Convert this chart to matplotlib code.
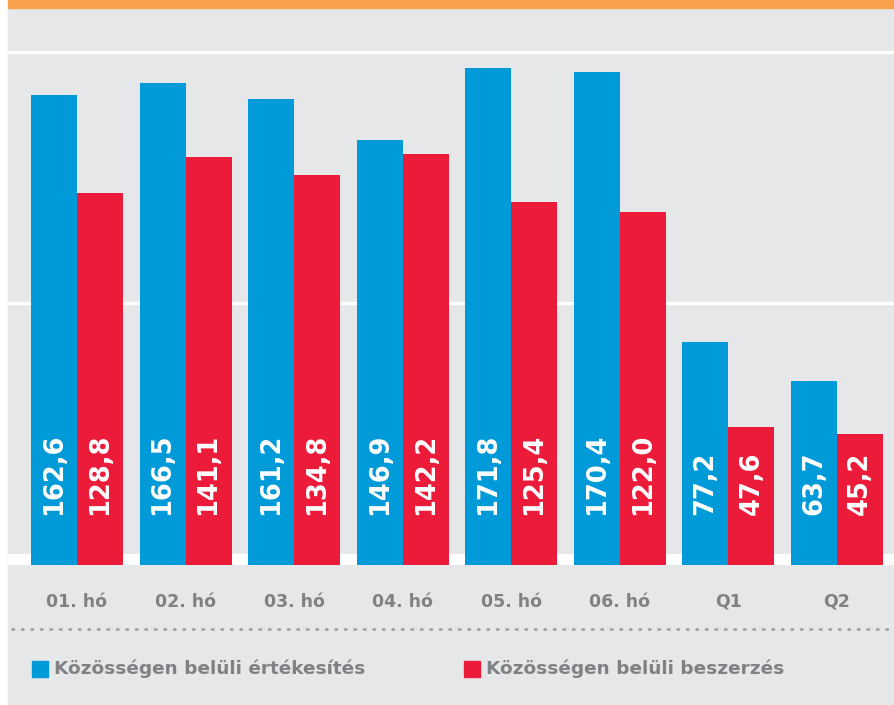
import matplotlib
matplotlib.use('Agg')
import matplotlib.pyplot as plt
from matplotlib.patches import Rectangle
from matplotlib.lines import Line2D
import numpy as np

# data
categories = ['01. hó', '02. hó', '03. hó', '04. hó', '05. hó', '06. hó', 'Q1', 'Q2']
ertekesites = [162.6, 166.5, 161.2, 146.9, 171.8, 170.4, 77.2, 63.7]
beszerzes = [128.8, 141.1, 134.8, 142.2, 125.4, 122.0, 47.6, 45.2]
series_names = ['Közösségen belüli értékesítés', 'Közösségen belüli beszerzés']

BLUE = '#009ad9'
RED = '#ed1b3a'
GRAY_BG = '#e6e7e8'
ORANGE = '#f9a04b'
TXT = '#808184'

W, H = 895, 705
fig = plt.figure(figsize=(W/100, H/100), dpi=100, facecolor='white')

# background panel and orange strip on top
fig.patches.append(Rectangle((8/W, 0), 1, 1, transform=fig.transFigure,
                             color=GRAY_BG, zorder=-5))
fig.patches.append(Rectangle((8/W, 697/H), 1, 8/H, transform=fig.transFigure,
                             color=ORANGE, zorder=1))

ax = fig.add_axes([8/W, (H-565)/H, 887/W, 557/H])
ax.set_facecolor(GRAY_BG)
ax.patch.set_alpha(0)

x = np.arange(len(categories))
bw = 0.4237
ax.set_xlim(-0.6355, 7.534)
ax.set_ylim(0, 192.6)

# white grid lines and baseline band
for g in [90.6, 177.4]:
    ax.axhline(g, color='white', lw=2.4, zorder=1)
ax.axhspan(0, 3.8, color='white', lw=0, zorder=1)

ax.bar(x - bw/2, ertekesites, bw, color=BLUE, zorder=2)
ax.bar(x + bw/2, beszerzes, bw, color=RED, zorder=2)

for i in range(len(categories)):
    for dx, v in [(-bw/2, ertekesites[i]), (bw/2, beszerzes[i])]:
        ax.text(x[i] + dx, 17.3, f'{v:.1f}'.replace('.', ','), rotation=90,
                ha='center', va='bottom', color='white', fontsize=18.5,
                fontweight='bold', zorder=3)

for s in ax.spines.values():
    s.set_visible(False)
ax.set_yticks([])
ax.set_xticks(x)
ax.set_xticklabels(categories, color=TXT, fontsize=12.5, fontweight='bold')
ax.tick_params(axis='x', length=0, pad=20)

# dotted separator
fig.add_artist(Line2D([12/W, 1], [(H-629)/H]*2, transform=fig.transFigure,
                      color='#9a9b9d', lw=1.8, linestyle=(0, (0.6, 3.2)),
                      dash_capstyle='round'))

# legend
for (x0, col, name) in [(32, BLUE, series_names[0]), (464, RED, series_names[1])]:
    fig.patches.append(Rectangle((x0/W, (H-677)/H), 16/W, 16/H,
                                 transform=fig.transFigure, color=col, zorder=2))
    fig.text((x0+22)/W, (H-669)/H, name, color=TXT, fontsize=13.3,
             fontweight='bold', va='center', ha='left')

fig.savefig('out.png', dpi=100, facecolor='white')
